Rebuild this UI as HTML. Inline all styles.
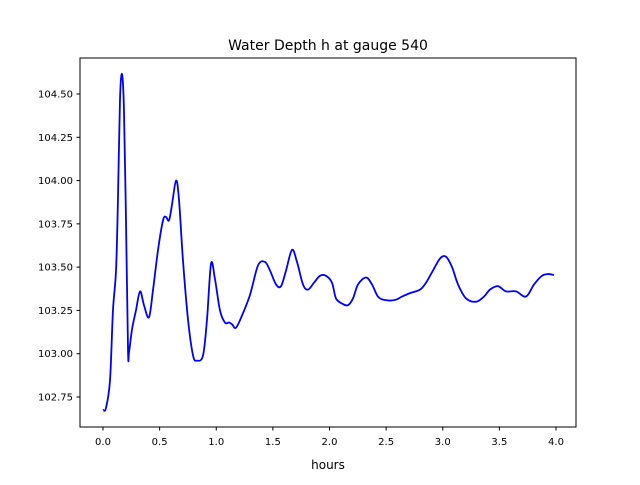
<!DOCTYPE html>
<html><head><meta charset="utf-8"><style>
body{margin:0;background:#fff;}
svg text{font-family:"DejaVu Sans","Liberation Sans",sans-serif;}
</style></head><body>
<svg width="640" height="480" id="c">
<rect width="640" height="480" fill="#fff"/>
<text x="328" y="50" font-size="14" text-anchor="middle">Water Depth h at gauge 540</text>
<text x="328" y="469" font-size="12" text-anchor="middle">hours</text>
<g id="ticks"></g>
<path id="line" fill="none" stroke="#0000ff" stroke-width="1.8"/>
<rect x="80" y="58" width="496" height="369" fill="none" stroke="#000" stroke-width="1"/>
</svg>
<script>
const hours=[0,.026,.062,.088,.115,.132,.150,.168,.185,.203,.221,.230,.256,.291,.327,.362,.406,.442,.486,.530,.556,.583,.609,.645,.671,.706,.751,.795,.830,.883,.918,.954,.989,1.033,1.077,1.113,1.139,1.174,1.227,1.298,1.369,1.430,1.475,1.528,1.572,1.616,1.669,1.713,1.766,1.810,1.863,1.916,1.969,2.022,2.057,2.110,2.163,2.208,2.252,2.322,2.375,2.428,2.490,2.578,2.640,2.711,2.799,2.852,2.905,2.976,3.029,3.082,3.135,3.205,3.294,3.364,3.417,3.488,3.558,3.647,3.735,3.806,3.876,3.929,3.982];
const depth=[102.675,102.686,102.848,103.25,103.48,103.89,104.465,104.615,104.41,103.77,103.02,103.01,103.14,103.25,103.36,103.28,103.21,103.37,103.60,103.77,103.79,103.77,103.86,104.00,103.89,103.54,103.195,102.99,102.96,102.99,103.195,103.52,103.43,103.25,103.18,103.18,103.17,103.15,103.22,103.34,103.51,103.53,103.48,103.40,103.39,103.48,103.60,103.53,103.40,103.37,103.41,103.45,103.45,103.41,103.32,103.29,103.28,103.32,103.40,103.44,103.40,103.33,103.31,103.31,103.33,103.35,103.37,103.41,103.47,103.55,103.56,103.50,103.40,103.32,103.30,103.33,103.37,103.39,103.36,103.36,103.33,103.40,103.45,103.46,103.455];
const xTicks=[0,0.5,1,1.5,2,2.5,3,3.5,4];
const xTickLabels=["0.0","0.5","1.0","1.5","2.0","2.5","3.0","3.5","4.0"];
const yTicks=[102.75,103,103.25,103.5,103.75,104,104.25,104.5];
const yTickLabels=["102.75","103.00","103.25","103.50","103.75","104.00","104.25","104.50"];
const NS="http://www.w3.org/2000/svg";
const xs=t=>103+t*113.25;
const ys=h=>94+(104.5-h)*173.14;
const g=document.getElementById('ticks');
function mk(tag,attrs){const e=document.createElementNS(NS,tag);for(const k in attrs)e.setAttribute(k,attrs[k]);g.appendChild(e);return e;}
xTicks.forEach((t,i)=>{
  const l=mk('line',{x1:xs(t),x2:xs(t),y1:427,y2:430.5,stroke:'#000'});
  
  
  const tx=mk('text',{x:xs(t),y:445,'font-size':10,'text-anchor':'middle'});
  tx.textContent=xTickLabels[i];
  
  
});
yTicks.forEach((h,i)=>{
  const l=mk('line',{x1:76.5,x2:80,y1:ys(h),y2:ys(h),stroke:'#000'});
  
  
  const tx=mk('text',{x:73,y:ys(h)+3.5,'font-size':10,'text-anchor':'end'});
  tx.textContent=yTickLabels[i];
  
  
});
const P=hours.map((t,i)=>[xs(t),ys(depth[i])]);
let d='M'+P[0][0]+','+P[0][1];
for(let i=0;i<P.length-1;i++){
  const p0=P[Math.max(0,i-1)],p1=P[i],p2=P[i+1],p3=P[Math.min(P.length-1,i+2)];
  const c1=[p1[0]+(p2[0]-p0[0])/6,p1[1]+(p2[1]-p0[1])/6];
  const c2=[p2[0]-(p3[0]-p1[0])/6,p2[1]-(p3[1]-p1[1])/6];
  d+=' C'+c1[0]+','+c1[1]+' '+c2[0]+','+c2[1]+' '+p2[0]+','+p2[1];
}
document.getElementById('line').setAttribute('d',d);
</script>
</body></html>
